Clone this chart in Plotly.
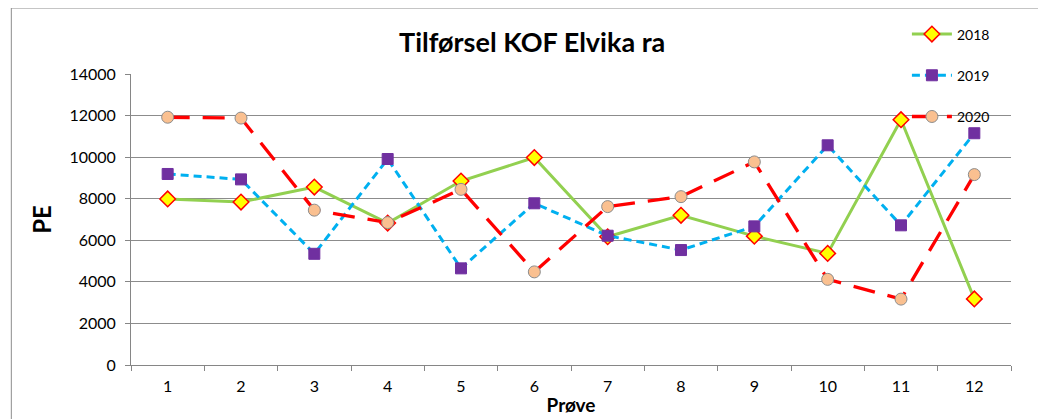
import plotly.graph_objects as go

categories = [str(i) for i in range(1, 13)]
y2018 = [7990, 7840, 8560, 6830, 8850, 9980, 6170, 7200, 6200, 5370, 11800, 3180]
y2019 = [9190, 8930, 5350, 9910, 4650, 7780, 6220, 5530, 6670, 10570, 6720, 11150]
y2020 = [11920, 11880, 7450, 6850, 8450, 4480, 7620, 8100, 9770, 4120, 3170, 9160]
yticks = [0, 2000, 4000, 6000, 8000, 10000, 12000, 14000]

FONT = "Lato"
fig = go.Figure()
fig.add_trace(go.Scatter(
    x=categories, y=y2018, name="2018", mode="lines+markers", legendgroup="a",
    line=dict(color="#92D050", width=3),
    marker=dict(symbol="diamond", size=12, color="#FFFF00", line=dict(color="#FF0000", width=1.5)),
))
fig.add_trace(go.Scatter(
    x=categories, y=y2019, name="2019", mode="lines+markers", legendgroup="b",
    line=dict(color="#00B0F0", width=3, dash="8px,5px"),
    marker=dict(symbol="square", size=11, color="#7030A0", line=dict(color="#7030A0", width=1)),
))
fig.add_trace(go.Scatter(
    x=categories, y=y2020, name="2020", mode="lines+markers", legendgroup="c",
    line=dict(color="#FF0000", width=3.3, dash="22px,13px"),
    marker=dict(symbol="circle", size=12, color="#FAC090", line=dict(color="#8C8C8C", width=1)),
))

fig.update_layout(
    width=1038, height=411,
    margin=dict(l=123, r=35, t=66, b=54, autoexpand=False),
    paper_bgcolor="white", plot_bgcolor="white",
    font=dict(family=FONT, size=15, color="#000000"),
    title=dict(text="<b>Tilførsel KOF Elvika ra</b>", x=0.505, xanchor="center",
               y=0.915, yanchor="middle", font=dict(family=FONT, size=27, color="#000")),
    legend=dict(xref="container", yref="container", x=0.866, y=0.9745, xanchor="left", yanchor="top",
                bgcolor="rgba(0,0,0,0)",
                traceorder="grouped", tracegroupgap=20, font=dict(family=FONT, size=14),
                itemwidth=40),
    showlegend=True,
)
fig.update_xaxes(
    type="category", range=[-0.5, 11.5], tickson="boundaries", ticks="outside", ticklen=5,
    tickcolor="#868686", showline=True, linecolor="#868686", linewidth=1,
    showgrid=False, tickfont=dict(family=FONT, size=16), automargin=False, ticklabelstandoff=7,
    title=dict(text="<b>Prøve</b>", font=dict(family=FONT, size=19), standoff=4),
)
fig.update_yaxes(
    range=[0, 14000], tickvals=yticks, ticktext=[str(v) for v in yticks],
    ticks="outside", ticklen=5, tickcolor="#868686",
    showline=True, linecolor="#868686", linewidth=1,
    showgrid=True, gridcolor="#8C8C8C", gridwidth=1, zeroline=False,
    tickfont=dict(family=FONT, size=16), automargin=False, ticklabelstandoff=6,
    title=dict(text="<b>PE</b>", font=dict(family=FONT, size=24), standoff=10),
)
fig.add_shape(type="rect", xref="paper", yref="paper", x0=-0.136, x1=1.2, y0=-0.5, y1=1.2268,
              line=dict(color="#8C8C8C", width=1), fillcolor="rgba(0,0,0,0)", layer="below")
fig.write_html("out.html")
